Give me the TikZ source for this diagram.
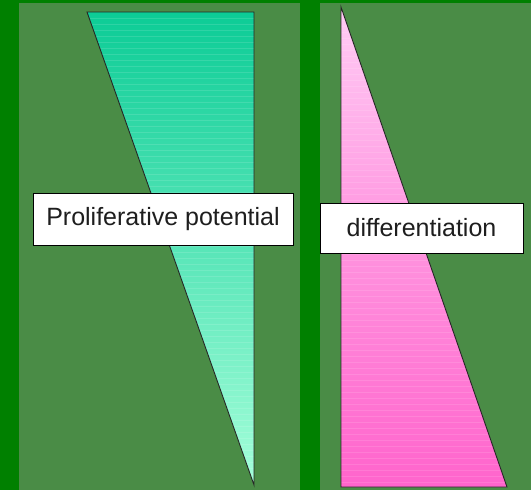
\documentclass[tikz,border=0pt]{standalone}
\usepackage{fontspec}
\setmainfont{Liberation Sans}
\definecolor{outergreen}{RGB}{0,128,0}
\definecolor{panelgreen}{RGB}{74,140,70}
\definecolor{tealtop}{RGB}{12,204,150}
\definecolor{tealbot}{RGB}{165,255,218}
\definecolor{pinktop}{RGB}{255,204,245}
\definecolor{pinkbot}{RGB}{255,100,204}
\definecolor{textgray}{RGB}{30,30,30}
\tikzset{
  panel/.style={fill=panelgreen, draw=none},
  wedge/.style={draw=black!85, line width=0.9pt, line join=miter},
  labelbox/.style={draw=black, line width=0.6pt, fill=white, text=textgray,
     font=\fontsize{25}{29}\selectfont, inner sep=0pt, anchor=center}
}
\begin{document}
\begin{tikzpicture}[x=1pt,y=-1pt]
  \useasboundingbox (0,0) rectangle (531,490);
  \fill[outergreen] (0,0) rectangle (531,490);
  \fill[panel] (19,3) rectangle (300,490);
  \fill[panel] (320,3) rectangle (531,490);
  % left wedge
  \shade[top color=tealtop, bottom color=tealbot] (87,12) -- (254,12) -- (254,485) -- cycle;
  \begin{scope}
    \clip (87,12) -- (254,12) -- (254,485) -- cycle;
    \foreach \y in {18,24,...,484} {\draw[white, opacity=0.12, line width=0.5pt] (80,\y) -- (260,\y);}
  \end{scope}
  \draw[wedge] (87,12) -- (254,12) -- (254,485) -- cycle;
  % right wedge
  \shade[top color=pinktop, bottom color=pinkbot, middle color=pinkbot!55!pinktop] (341,7) -- (341,487) -- (507,487) -- cycle;
  \begin{scope}
    \clip (341,7) -- (341,487) -- (507,487) -- cycle;
    \foreach \y in {14,20,...,486} {\draw[white, opacity=0.12, line width=0.5pt] (335,\y) -- (510,\y);}
  \end{scope}
  \draw[wedge] (341,7) -- (341,487) -- (507,487) -- cycle;
  % labels
  \node[labelbox, minimum width=260pt, minimum height=52pt] (prolif) at (163,219) {Proliferative potential};
  \node[labelbox, minimum width=203pt, minimum height=50pt] (diff) at (421.5,228) {differentiation};
\end{tikzpicture}
\end{document}
